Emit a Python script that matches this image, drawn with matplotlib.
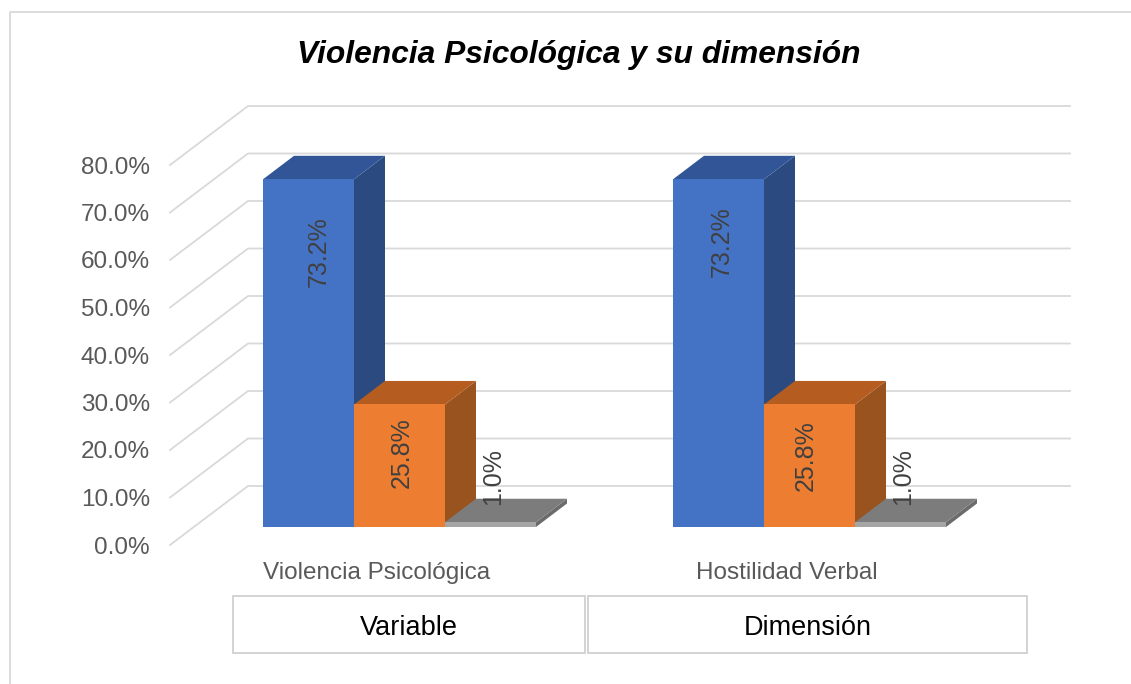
import matplotlib
matplotlib.use("Agg")
import matplotlib.pyplot as plt
from matplotlib.patches import Rectangle

plt.rcParams['font.family'] = ['Liberation Sans', 'DejaVu Sans']

# data
groups = ["Violencia Psicológica", "Hostilidad Verbal"]
headers = ["Variable", "Dimensión"]
alto = [73.2, 73.2]
medio = [25.8, 25.8]
bajo = [1.0, 1.0]
yticks = [0, 10, 20, 30, 40, 50, 60, 70, 80]

W, H = 1131, 684
PX_X = 410.0   # pixels per group
PX_Y = 4.75    # pixels per percent
bar_w = 91 / PX_X
# 3d look, pixel sizes turned into data units
wall_dx, wall_dy = 78 / PX_X, 59 / PX_Y
bar_dx, bar_dy = 31 / PX_X, 23.5 / PX_Y
base = 18 / PX_Y

fig = plt.figure(figsize=(W / 100, H / 100), dpi=100)

# background layer in pixels: border, boxes, title
bg = fig.add_axes([0, 0, 1, 1])
bg.set_xlim(0, W)
bg.set_ylim(H, 0)
bg.axis("off")
bg.plot([10, 10, W], [H, 12, 12], color="#D9D9D9", lw=1.3)
bg.add_patch(Rectangle((233, 596), 352, 57, fc="white", ec="#D0D0D0", lw=1.3))
bg.add_patch(Rectangle((587.5, 596), 439.5, 57, fc="white", ec="#D0D0D0", lw=1.3))
bg.text(409, 628, headers[0], ha="center", va="center", fontsize=19.5, color="black")
bg.text(807.5, 628, headers[1], ha="center", va="center", fontsize=19.5, color="black")
bg.text(377, 573, groups[0], ha="center", va="center", fontsize=17.5, color="#595959")
bg.text(787, 573, groups[1], ha="center", va="center", fontsize=17.5, color="#595959")
bg.text(579, 55, "Violencia Psicológica y su dimensión", ha="center", va="center",
        fontsize=22.9, fontweight="bold", fontstyle="italic", color="black")

# chart axes, front plane runs from 170 to 1070 px, 0% at y=545 and 80% at y=165
ax = fig.add_axes([170 / W, (H - 545) / H, 900 / W, 380 / H])
ax.patch.set_alpha(0)
x0 = 399.5 - 170
ax.set_xlim(-x0 / PX_X, (900 - x0) / PX_X)
ax.set_ylim(0, 80)
left, right = ax.get_xlim()
for s in ax.spines.values():
    s.set_visible(False)
ax.set_xticks([])
ax.set_yticks(yticks)
ax.set_yticklabels([f"{t:.1f}%" for t in yticks], fontsize=17.5, color="#595959")
ax.tick_params(axis="y", length=0, pad=14.5)

for t in yticks:
    ax.plot([left, left + wall_dx, right], [t, t + wall_dy, t + wall_dy],
            color="#D9D9D9", lw=1.3, clip_on=False, zorder=1)


def bar3d(xc, v, front, side, top):
    x1 = xc - bar_w / 2
    x2 = xc + bar_w / 2
    y2 = base + v
    ax.fill([x2, x2 + bar_dx, x2 + bar_dx, x2],
            [base, base + bar_dy, y2 + bar_dy, y2], color=side, lw=0, clip_on=False, zorder=3)
    ax.fill([x1, x2, x2 + bar_dx, x1 + bar_dx],
            [y2, y2, y2 + bar_dy, y2 + bar_dy], color=top, lw=0, clip_on=False, zorder=3)
    ax.bar(xc, v, bar_w, bottom=base, color=front, lw=0, clip_on=False, zorder=3)


series = [
    (alto, -1, "#4472C4", "#2A4A80", "#315596", [(10, 102), (3, 112)]),
    (medio, 0, "#ED7D31", "#99531E", "#B55D20", [(2.5, 13), (-4, 10.5)]),
    (bajo, 1, "#A5A5A5", "#6B6B6B", "#7C7C7C", [(3, 48.5), (3, 48.5)]),
]

for vals, pos, front, side, top, offs in series:
    for i, v in enumerate(vals):
        xc = i + pos * bar_w
        bar3d(xc, v, front, side, top)
        ax.annotate(f"{v:.1f}%", (xc, base + v / 2), xytext=(offs[i][0] * 0.72, offs[i][1] * 0.72),
                    textcoords="offset points", rotation=90, ha="center", va="center",
                    fontsize=18, color="#404040", zorder=5, annotation_clip=False)

fig.savefig("out.png", dpi=100)
